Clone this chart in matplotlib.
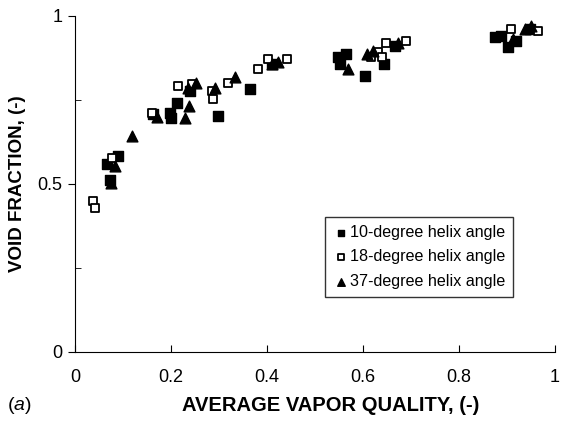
import numpy as np
import matplotlib.pyplot as plt

plt.rcParams['font.family'] = ['Liberation Sans', 'DejaVu Sans']
plt.rcParams['mathtext.fontset'] = 'custom'
plt.rcParams['mathtext.it'] = 'Liberation Sans:italic'

# 10-degree helix angle (filled squares)
q10 = [0.066, 0.073, 0.090, 0.162, 0.198, 0.201, 0.212, 0.240, 0.299, 0.365,
       0.410, 0.549, 0.552, 0.566, 0.604, 0.644, 0.667, 0.875, 0.889, 0.903,
       0.920, 0.948]
vf10 = [0.558, 0.513, 0.583, 0.707, 0.712, 0.695, 0.742, 0.777, 0.702, 0.782,
        0.857, 0.877, 0.857, 0.887, 0.822, 0.857, 0.911, 0.936, 0.941, 0.907,
        0.926, 0.961]

# 18-degree helix angle (open squares)
q18 = [0.038, 0.042, 0.078, 0.160, 0.215, 0.243, 0.285, 0.288, 0.319, 0.382,
       0.403, 0.441, 0.618, 0.632, 0.639, 0.649, 0.691, 0.910, 0.965]
vf18 = [0.449, 0.429, 0.578, 0.712, 0.792, 0.797, 0.777, 0.752, 0.802, 0.842,
        0.872, 0.872, 0.877, 0.892, 0.877, 0.921, 0.926, 0.961, 0.956]

# 37-degree helix angle (triangles)
q37 = [0.076, 0.083, 0.118, 0.170, 0.229, 0.236, 0.238, 0.253, 0.292, 0.333,
       0.410, 0.424, 0.569, 0.608, 0.622, 0.674, 0.913, 0.9375, 0.951]
vf37 = [0.504, 0.553, 0.643, 0.700, 0.695, 0.787, 0.732, 0.802, 0.787, 0.817,
        0.857, 0.864, 0.842, 0.887, 0.896, 0.921, 0.931, 0.961, 0.971]

xticks = [0, 0.2, 0.4, 0.6, 0.8, 1]
xtick_labels = ['0', '0.2', '0.4', '0.6', '0.8', '1']
yticks = [0, 0.5, 1]
ytick_labels = ['0', '0.5', '1']

fig = plt.figure(figsize=(5.61, 4.21), dpi=100)
ax = fig.add_axes([0.1337, 0.164, 0.855, 0.798])

ax.scatter(q10, vf10, marker='s', s=45, color='black', label='10-degree helix angle', zorder=3)
ax.scatter(q18, vf18, marker='s', s=38, facecolor='white', edgecolor='black', linewidth=1.3,
           label='18-degree helix angle', zorder=3)
ax.scatter(q37, vf37, marker='^', s=60, color='black', label='37-degree helix angle', zorder=3)

ax.set_xlim(0, 1)
ax.set_ylim(0, 1)
ax.set_xticks(xticks, xtick_labels)
ax.set_yticks(yticks, ytick_labels)
ax.set_yticks([0.25, 0.75], minor=True)
ax.tick_params(axis='x', direction='in', length=5, labelsize=13, pad=12)
ax.tick_params(axis='y', which='major', direction='out', length=5, labelsize=13, pad=4)
ax.tick_params(axis='y', which='minor', direction='in', length=4)
for s in ['top', 'right']:
    ax.spines[s].set_visible(False)

ax.set_xlabel('AVERAGE VAPOR QUALITY, (-)', fontsize=14.5, fontweight='bold')
ax.xaxis.set_label_coords(0.533, -0.13)
ax.set_ylabel('VOID FRACTION, (-)', fontsize=13.5, fontweight='bold', labelpad=8)
fig.text(0.012, 0.025, r'($\mathit{a}$)', fontsize=14)

leg = ax.legend(loc='lower right', bbox_to_anchor=(0.913, 0.164), fontsize=11.6,
                frameon=True, fancybox=False, edgecolor='black', handletextpad=0.05,
                handlelength=1.0, borderpad=0.5, labelspacing=0.58, markerscale=0.7,
                borderaxespad=0)
leg.get_frame().set_linewidth(1.0)

fig.savefig('out.png', dpi=100)
